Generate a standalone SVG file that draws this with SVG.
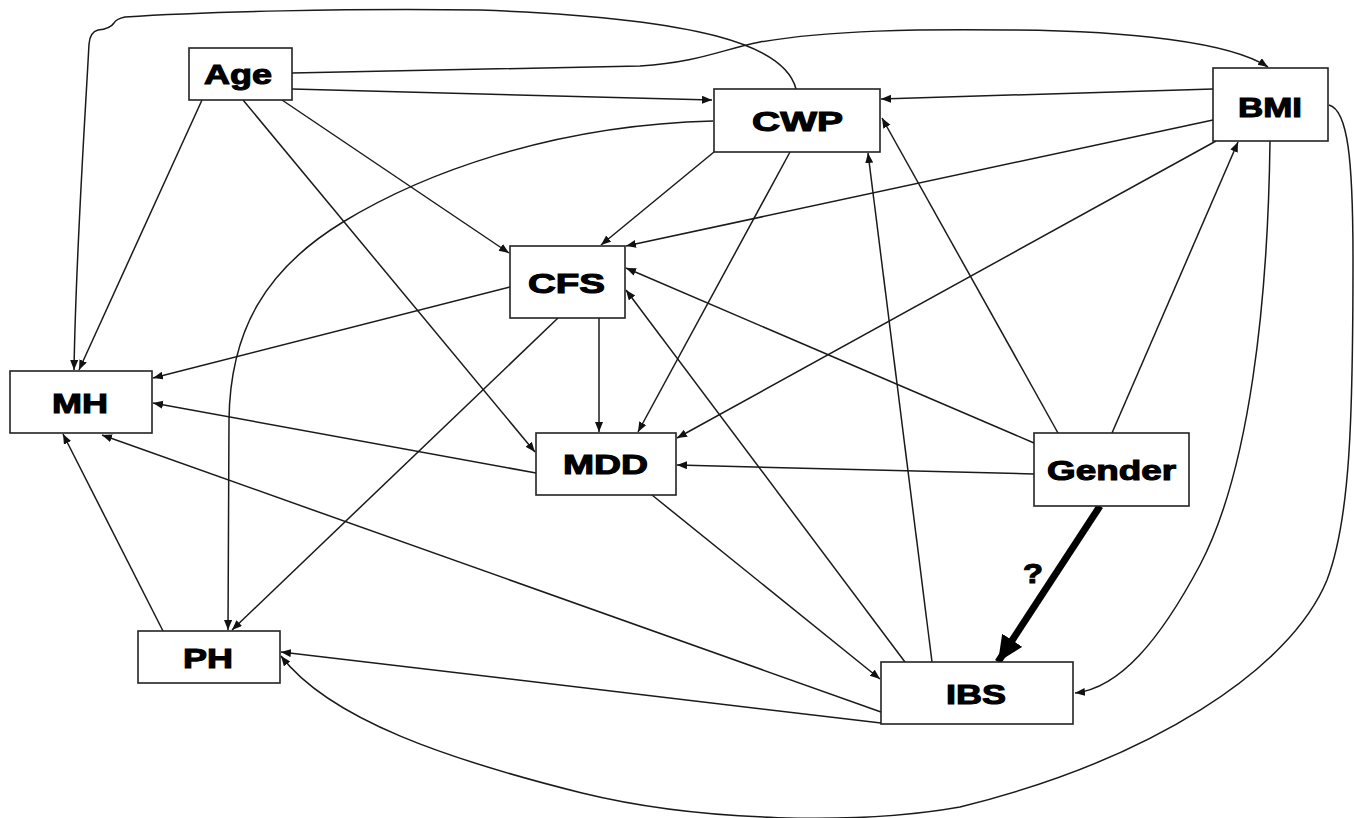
<svg xmlns="http://www.w3.org/2000/svg" width="1354" height="818" viewBox="0 0 1354 818">
  <defs>
    <marker id="arr" markerUnits="userSpaceOnUse" markerWidth="11" markerHeight="9" refX="10" refY="4" orient="auto">
      <path d="M0,0 L10,4 L0,8 z" fill="#111"/>
    </marker>
    <marker id="heavy" markerUnits="userSpaceOnUse" markerWidth="28" markerHeight="26" refX="26" refY="12" orient="auto">
      <path d="M0,0 L26,12 L0,24 z" fill="#000"/>
    </marker>
  </defs>
  <style>
    .box { fill: #fff; stroke: #222; stroke-width: 1.6; }
    .lbl { font-family: "Liberation Sans", Arial, sans-serif; font-weight: bold; font-size: 28px; fill: #000; stroke: #000; stroke-width: 1.1; }
    .edge { fill: none; stroke: #1a1a1a; stroke-width: 1.5; marker-end: url(#arr); }
    .strong { fill: none; stroke: #000; stroke-width: 7; marker-end: url(#heavy); }
  </style>
  <rect width="1354" height="818" fill="#fff"/>

  <g id="connectors">
    <!-- Age -->
    <path class="edge" d="M292,89 L712,100"/>
    <path class="edge" d="M292,73 L640,66 C700,62 720,50 760,42 C830,30 920,29 1010,30 C1130,31 1230,42 1268,67"/>
    <path class="edge" d="M202,100 L79,370"/>
    <path class="edge" d="M282,100 L509,253"/>
    <path class="edge" d="M243,100 L535,452"/>
    <!-- CWP -->
    <path class="edge" d="M796,89 C785,45 700,18 480,10 C350,8 200,12 125,17 Q116,19 114,23 Q110,29 98,30 Q90,32 89,44 C85,120 76,250 74,370"/>
    <path class="edge" d="M713,121 C550,125 420,175 343,222 S230,330 229,420 L228,630"/>
    <path class="edge" d="M714,152 L601,245"/>
    <path class="edge" d="M790,152 L638,432"/>
    <!-- BMI -->
    <path class="edge" d="M1213,89 L881,99"/>
    <path class="edge" d="M1213,120 L626,246"/>
    <path class="edge" d="M1216,141 L677,438"/>
    <path class="edge" d="M1270,141 C1268,300 1250,470 1200,565 C1160,640 1120,688 1075,693"/>
    <path class="edge" d="M1329,105 C1348,110 1353,160 1353,260 C1353,420 1350,520 1327,580 C1290,670 1150,760 960,807 C860,825 700,822 582,793 C450,760 330,720 281,656"/>
    <!-- Gender -->
    <path class="strong" d="M1100,506 L998,662"/>
    <path class="edge" d="M1112,433 L1238,142"/>
    <path class="edge" d="M1058,433 L882,118"/>
    <path class="edge" d="M1034,443 L626,268"/>
    <path class="edge" d="M1034,474 L677,465"/>
    <!-- IBS -->
    <path class="edge" d="M932,662 L868,153"/>
    <path class="edge" d="M905,662 L626,290"/>
    <path class="edge" d="M881,712 L102,435"/>
    <path class="edge" d="M881,723 L281,652"/>
    <!-- MDD -->
    <path class="edge" d="M652,495 L880,679"/>
    <path class="edge" d="M536,473 L153,403"/>
    <!-- CFS -->
    <path class="edge" d="M510,287 L153,378"/>
    <path class="edge" d="M599,318 L599,432"/>
    <path class="edge" d="M558,318 L232,630"/>
    <!-- PH -->
    <path class="edge" d="M163,631 L63,434"/>
    <text class="lbl" x="1023" y="583" textLength="20" lengthAdjust="spacingAndGlyphs">?</text>
  </g>

  <g id="node-age">
    <rect class="box" x="189" y="48" width="103" height="52"/>
    <text class="lbl" x="204" y="84" textLength="68" lengthAdjust="spacingAndGlyphs">Age</text>
  </g>
  <g id="node-cwp">
    <rect class="box" x="714" y="89" width="166" height="63"/>
    <text class="lbl" x="752" y="131" textLength="91" lengthAdjust="spacingAndGlyphs">CWP</text>
  </g>
  <g id="node-bmi">
    <rect class="box" x="1213" y="68" width="115" height="73"/>
    <text class="lbl" x="1238" y="117" textLength="64" lengthAdjust="spacingAndGlyphs">BMI</text>
  </g>
  <g id="node-cfs">
    <rect class="box" x="510" y="246" width="115" height="72"/>
    <text class="lbl" x="528" y="293" textLength="77" lengthAdjust="spacingAndGlyphs">CFS</text>
  </g>
  <g id="node-mh">
    <rect class="box" x="10" y="371" width="142" height="62"/>
    <text class="lbl" x="52" y="413" textLength="56" lengthAdjust="spacingAndGlyphs">MH</text>
  </g>
  <g id="node-mdd">
    <rect class="box" x="536" y="433" width="140" height="62"/>
    <text class="lbl" x="563" y="474" textLength="85" lengthAdjust="spacingAndGlyphs">MDD</text>
  </g>
  <g id="node-gender">
    <rect class="box" x="1034" y="433" width="155" height="73"/>
    <text class="lbl" x="1047" y="480" textLength="129" lengthAdjust="spacingAndGlyphs">Gender</text>
  </g>
  <g id="node-ph">
    <rect class="box" x="138" y="631" width="142" height="52"/>
    <text class="lbl" x="183" y="668" textLength="50" lengthAdjust="spacingAndGlyphs">PH</text>
  </g>
  <g id="node-ibs">
    <rect class="box" x="881" y="662" width="192" height="62"/>
    <text class="lbl" x="946" y="704" textLength="60" lengthAdjust="spacingAndGlyphs">IBS</text>
  </g>
</svg>
